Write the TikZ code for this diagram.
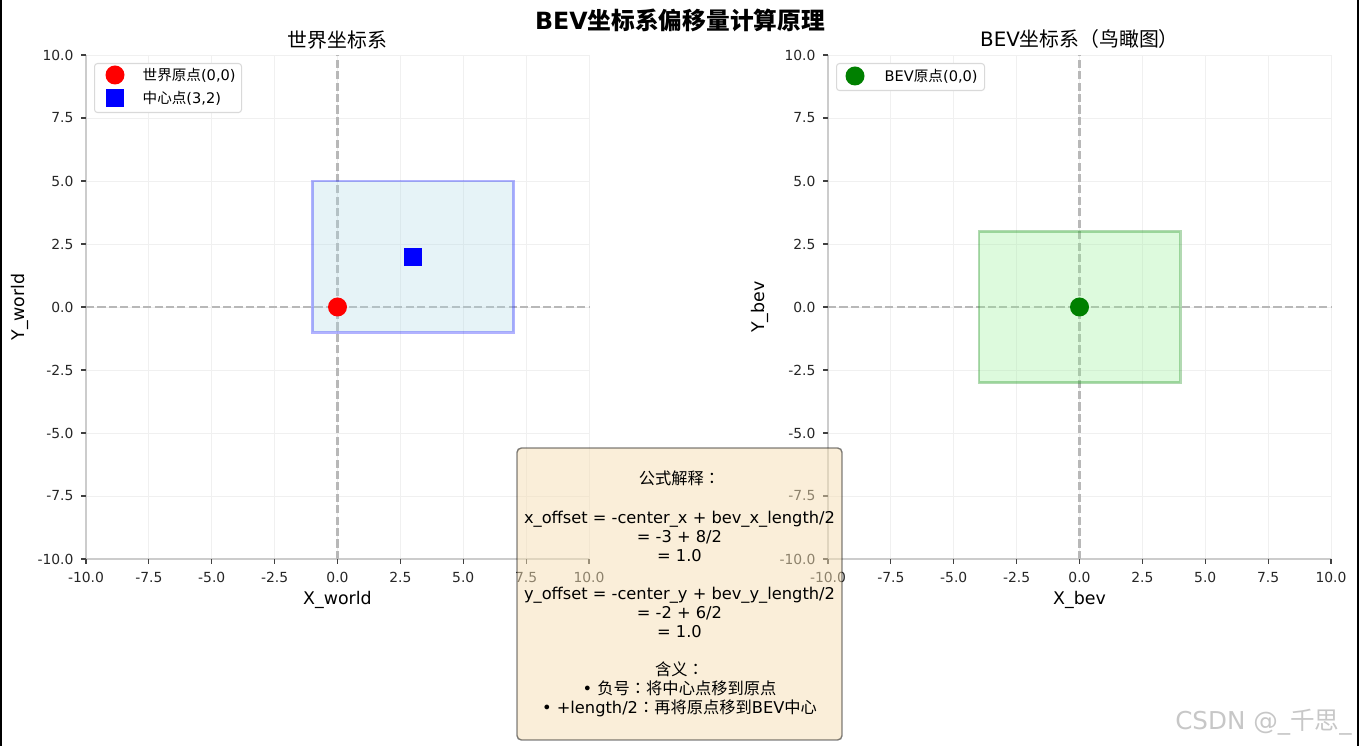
\documentclass[tikz,border=0pt]{standalone}
\usepackage{fontspec}
\setmainfont{DejaVu Sans}
\newfontfamily\cjk{Noto Sans CJK SC}
\newfontfamily\cjkpunct{Noto Sans CJK TC}
\usetikzlibrary{positioning}

\definecolor{gridgray}{HTML}{F0F0F0}
\definecolor{spinegray}{HTML}{CCCCCC}
\definecolor{zerogray}{HTML}{B8B8B8}
\definecolor{lightblue}{HTML}{ADD8E6}
\definecolor{lightgreen}{HTML}{90EE90}
\definecolor{mplgreen}{HTML}{008000}
\definecolor{wheat}{HTML}{F5DEB3}

\newcommand{\fcolon}{{\cjkpunct ：}}

\begin{document}
\begin{tikzpicture}[
  font=\fontsize{7.9}{9.5}\selectfont,
  gridline/.style={gridgray, line width=0.5pt},
  spine/.style={spinegray, line width=0.9pt},
  tickmark/.style={black!75, line width=0.6pt},
  ticklabel/.style={inner sep=0pt, text=black!85},
  zeroline/.style={zerogray, line width=1.2pt, dash pattern=on 4.6pt off 1.9pt},
  axtitle/.style={font=\fontsize{11.3}{13}\selectfont},
  axlabel/.style={font=\fontsize{9.9}{12}\selectfont},
  dotmark/.style={circle, inner sep=0pt, minimum size=0.38cm},
  sqmark/.style={rectangle, inner sep=0pt, minimum size=0.36cm},
  legendbox/.style={draw=black!15, fill=white, rounded corners=1.7pt, line width=0.6pt},
  keytext/.style={anchor=west, inner sep=0pt, font=\fontsize{8.3}{10}\selectfont},
  worldbox/.style={fill=lightblue, fill opacity=0.3, draw=blue, draw opacity=0.3, line width=1.6pt},
  bevbox/.style={fill=lightgreen, fill opacity=0.3, draw=mplgreen, draw opacity=0.3, line width=1.6pt},
  formulabox/.style={draw=black, draw opacity=0.5, fill=wheat, fill opacity=0.5, text opacity=1,
    rounded corners=2.5pt, line width=0.8pt, minimum width=6.5cm, minimum height=5.84cm,
    inner sep=0pt, align=center, font=\fontsize{9.25}{10.83}\selectfont},
]
\useasboundingbox (0,0) rectangle (27.18,14.92);

% page edges
\draw[black, line width=1.2pt] (0.02,0) -- (0.02,14.92);
\draw[black, line width=1.2pt] (27.16,0) -- (27.16,14.92);

% both axes: grid, spines, ticks, zero lines
\foreach \ox in {6.75,21.59}{
  \begin{scope}[shift={(\ox,8.78)}, x=0.503cm, y=0.504cm]
    \foreach \v/\t in {-10/-10.0,-7.5/-7.5,-5/-5.0,-2.5/-2.5,0/0.0,2.5/2.5,5/5.0,7.5/7.5,10/10.0}{
      \draw[gridline] (\v,-10) -- (\v,10);
      \draw[gridline] (-10,\v) -- (10,\v);
    }
    \draw[spine] (-10,10) -- (-10,-10) -- (10,-10);
    \foreach \v/\t in {-10/-10.0,-7.5/-7.5,-5/-5.0,-2.5/-2.5,0/0.0,2.5/2.5,5/5.0,7.5/7.5,10/10.0}{
      \draw[tickmark] (\v,-10) -- ++(0,-0.1cm) node[ticklabel, below=4.5pt] {\t};
      \draw[tickmark] (-10,\v) -- ++(-0.1cm,0) node[ticklabel, left=4pt] {\t};
    }
    \draw[zeroline] (0,-10) -- (0,10);
    \draw[zeroline] (-10,0) -- (10,0);
  \end{scope}
}

% world frame
\begin{scope}[shift={(6.75,8.78)}, x=0.503cm, y=0.504cm]
  \draw[worldbox] (-1,-1) rectangle (7,5);
  \node[dotmark, fill=red] (worldorigin) at (0,0) {};
  \node[sqmark, fill=blue] (worldcenter) at (3,2) {};
\end{scope}

% bev frame
\begin{scope}[shift={(21.59,8.78)}, x=0.503cm, y=0.504cm]
  \draw[bevbox] (-4,-3) rectangle (4,3);
  \node[dotmark, fill=mplgreen] (bevorigin) at (0,0) {};
\end{scope}

% titles and axis labels
\node[font=\fontsize{13.5}{16}\selectfont\bfseries] (maintitle) at (13.6,14.52) {BEV{\cjk 坐标系偏移量计算原理}};
\node[axtitle] (worldtitle) at (6.75,14.12) {\cjk 世界坐标系};
\node[axtitle] (bevtitle) at (21.59,14.14) {BEV{\cjk 坐标系（鸟瞰图）}};
\node[axlabel] (xworld) at (6.75,2.92) {X\_world};
\node[axlabel] (xbev) at (21.59,2.92) {X\_bev};
\node[axlabel, rotate=90] (yworld) at (0.39,8.78) {Y\_world};
\node[axlabel, rotate=90] (ybev) at (15.2,8.78) {Y\_bev};

% legends
\node[legendbox, anchor=north west, minimum width=2.94cm, minimum height=0.98cm] (worldlegend) at (1.88,13.66) {};
\node[dotmark, fill=red] (keyorigin) at (2.30,13.42) {};
\node[keytext, right=0.35cm of keyorigin] (keyorigintext) {{\cjk 世界原点}(0,0)};
\node[sqmark, fill=blue] (keycenter) at (2.30,12.96) {};
\node[keytext, right=0.36cm of keycenter] (keycentertext) {{\cjk 中心点}(3,2)};

\node[legendbox, anchor=north west, minimum width=2.96cm, minimum height=0.54cm] (bevlegend) at (16.72,13.66) {};
\node[dotmark, fill=mplgreen] (keybev) at (17.10,13.40) {};
\node[keytext, right=0.39cm of keybev] (keybevtext) {BEV{\cjk 原点}(0,0)};

% formula box
\node[formulabox] (formula) at (13.59,3.04) {{\cjk 公式解释}\fcolon\\[10.83pt]
  x\_offset = -center\_x + bev\_x\_length/2\\
  = -3 + 8/2\\
  = 1.0\\[10.83pt]
  y\_offset = -center\_y + bev\_y\_length/2\\
  = -2 + 6/2\\
  = 1.0\\[10.83pt]
  {\cjk 含义}\fcolon\\
  • {\cjk 负号}\fcolon{\cjk 将中心点移到原点}\\
  • +length/2\fcolon{\cjk 再将原点移到}BEV{\cjk 中心}};

% watermark
\node[text=black!22, font=\fontsize{14}{16}\selectfont] (mark) at (25.27,0.48) {CSDN @\_{\cjk 千思}\_};
\end{tikzpicture}
\end{document}
